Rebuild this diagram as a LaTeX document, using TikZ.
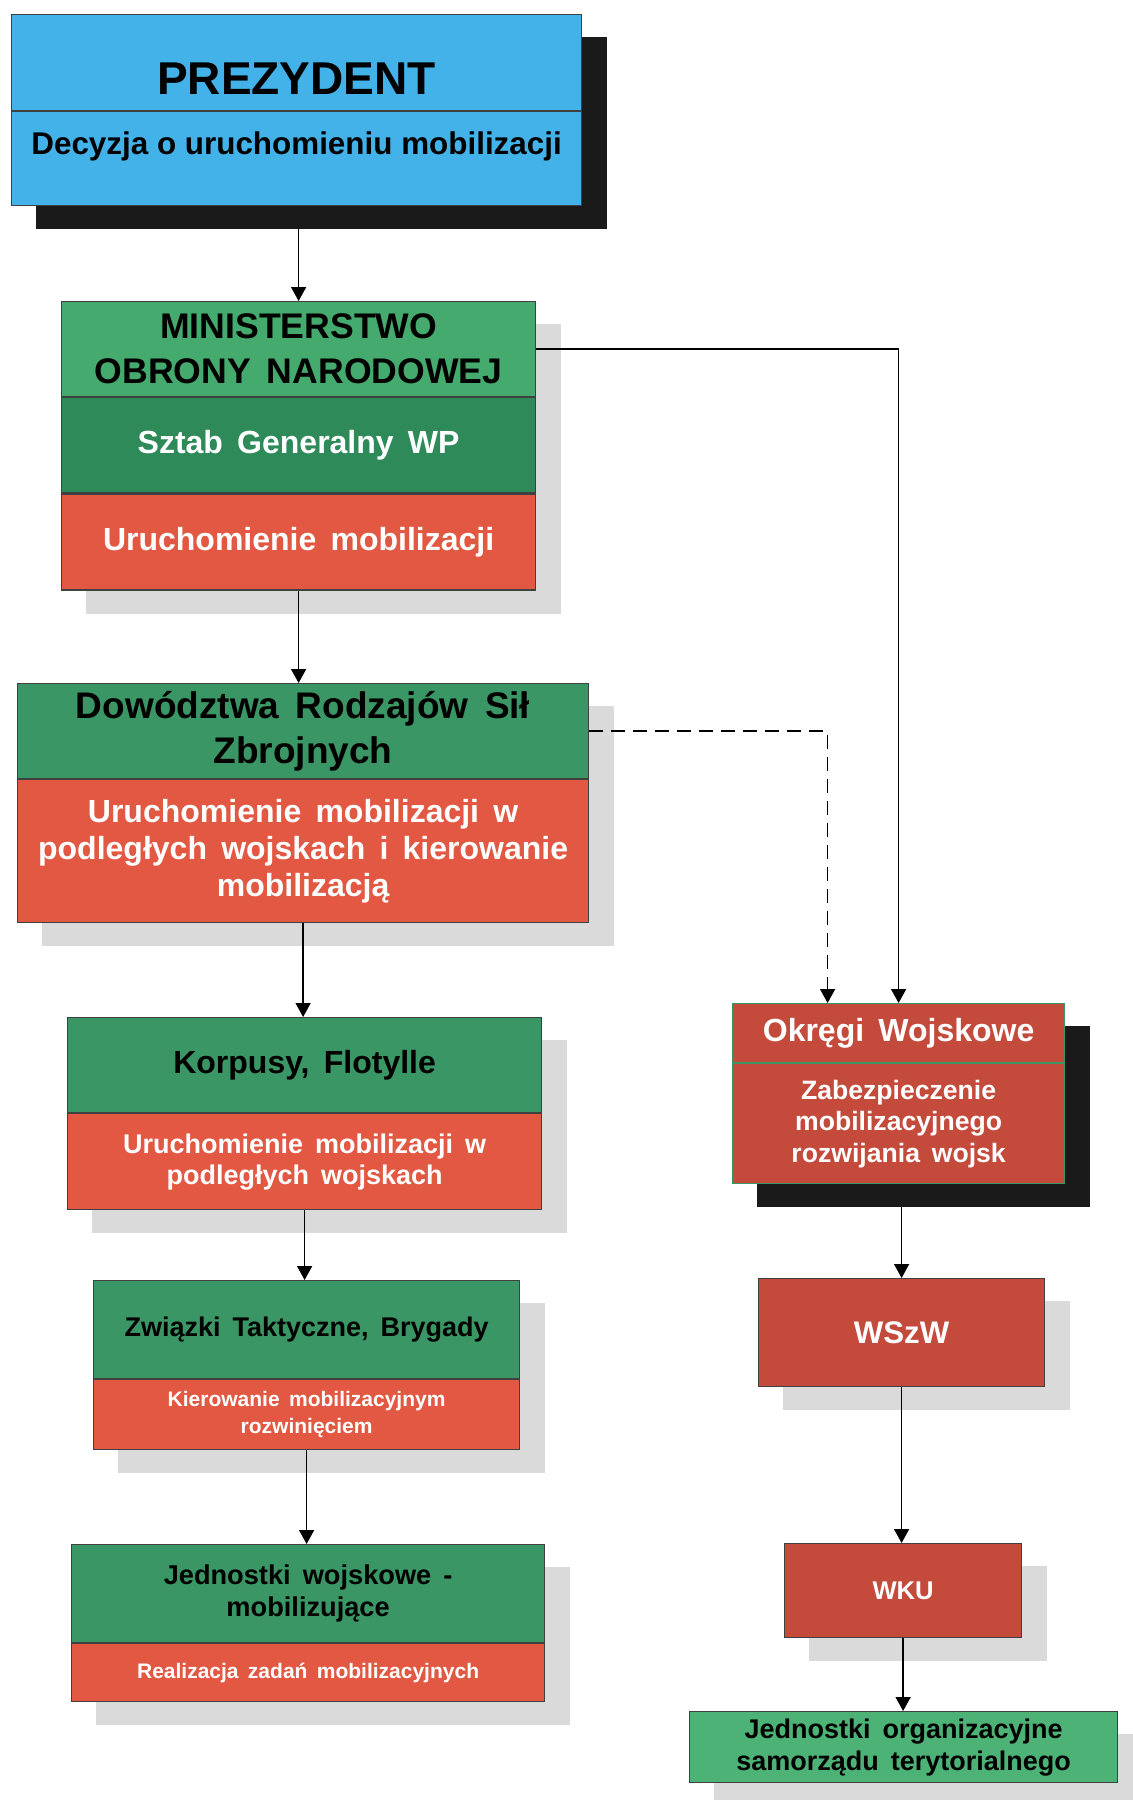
\documentclass[tikz,border=0pt]{standalone}
\usepackage{fontspec}
\setmainfont[WordSpace=1.6]{Liberation Sans}
\newfontfamily\plainsp{Liberation Sans}
\usetikzlibrary{positioning,arrows.meta,backgrounds}
\definecolor{prezblue}{RGB}{66,178,232}
\definecolor{grnlight}{RGB}{68,170,110}
\definecolor{grndark}{RGB}{46,138,88}
\definecolor{grnmid}{RGB}{58,150,100}
\definecolor{grnpale}{RGB}{76,178,118}
\definecolor{redlight}{RGB}{226,88,66}
\definecolor{reddark}{RGB}{196,74,60}
\definecolor{okrline}{RGB}{60,150,100}
\definecolor{shadegray}{RGB}{218,218,218}
\definecolor{shadeblack}{RGB}{26,26,26}
\newcommand\fz[2]{\fontsize{#1}{#2}\selectfont\bfseries}
\tikzset{
  sec/.style={draw=black!75,line width=.6pt,inner sep=0pt,align=center},
  arr/.style={line width=.75pt,-{Triangle[length=7pt,width=7.5pt]}},
}

\begin{document}
\begin{tikzpicture}[x=.5pt,y=-.5pt]
\useasboundingbox (0,0) rectangle (1132,1800);

\node[sec,fill=prezblue,minimum width=285pt,anchor=north west,text height=40pt,text depth=8pt,font=\fz{23}{27}] (prez1) at (11,14) {PREZYDENT};
\node[sec,fill=prezblue,minimum width=285pt,below=0pt of prez1,text height=21.5pt,text depth=25.5pt,font=\plainsp\fz{15.7}{19}] (prez2) {Decyzja o uruchomieniu mobilizacji};

\node[sec,fill=grnlight,minimum width=237pt,minimum height=47.5pt,anchor=north west,font=\fz{17.8}{22.5}] (mon1) at (61,301) {MINISTERSTWO\\OBRONY NARODOWEJ};
\node[sec,fill=grndark,text=white,minimum width=237pt,minimum height=47.5pt,below=0pt of mon1,font=\fz{16}{19}] (mon2) {Sztab Generalny WP};
\node[sec,fill=redlight,text=white,minimum width=237pt,minimum height=48pt,below=0pt of mon2,font=\fz{16}{19}] (mon3) {Uruchomienie mobilizacji};

\node[sec,fill=grnmid,minimum width=285.5pt,minimum height=47.5pt,anchor=north west,font=\fz{18.5}{22.5}] (dow1) at (17,683) {Dowództwa Rodzajów Sił\\Zbrojnych};
\node[sec,fill=redlight,text=white,minimum width=285.5pt,minimum height=71.5pt,below=0pt of dow1,font=\fz{16}{18.7}] (dow2) {Uruchomienie mobilizacji w\\podległych wojskach i kierowanie\\mobilizacją};

\node[sec,fill=grnmid,minimum width=237pt,minimum height=47.5pt,anchor=north west,font=\fz{16}{19}] (korp1) at (67,1017) {Korpusy, Flotylle};
\node[sec,fill=redlight,text=white,minimum width=237pt,minimum height=48pt,below=0pt of korp1,font=\fz{13.5}{15.5}] (korp2) {Uruchomienie mobilizacji w\\podległych wojskach};

\node[sec,fill=grnmid,minimum width=213pt,minimum height=49pt,anchor=north west,font=\fz{13.5}{16}] (zw1) at (93,1280) {Związki Taktyczne, Brygady};
\node[sec,fill=redlight,text=white,minimum width=213pt,minimum height=35pt,below=0pt of zw1,font=\fz{10.5}{13.5}] (zw2) {Kierowanie mobilizacyjnym\\rozwinięciem};

\node[sec,fill=grnmid,minimum width=236.5pt,minimum height=49pt,anchor=north west,font=\fz{13.6}{16}] (jw1) at (71,1544) {Jednostki wojskowe -\\mobilizujące};
\node[sec,fill=redlight,text=white,minimum width=236.5pt,minimum height=29pt,below=0pt of jw1,font=\fz{10.5}{13}] (jw2) {Realizacja zadań mobilizacyjnych};

\node[sec,draw=okrline,fill=reddark,text=white,minimum width=166pt,minimum height=29.5pt,anchor=north west,font=\fz{16}{19}] (okr1) at (732,1003) {Okręgi Wojskowe};
\node[sec,draw=okrline,fill=reddark,text=white,minimum width=166pt,minimum height=60pt,below=0pt of okr1,font=\fz{13.3}{15.75}] (okr2) {Zabezpieczenie\\mobilizacyjnego\\rozwijania wojsk};

\node[sec,fill=reddark,text=white,minimum width=143pt,minimum height=54pt,anchor=north west,font=\fz{15.6}{19}] (wszw) at (758,1278) {WSzW};
\node[sec,fill=reddark,text=white,minimum width=118.5pt,minimum height=47pt,anchor=north west,font=\fz{12.8}{15}] (wku) at (784,1543) {WKU};
\node[sec,fill=grnpale,minimum width=214pt,minimum height=35.5pt,anchor=north west,font=\fz{13.5}{16}] (jorg) at (689,1711) {Jednostki organizacyjne\\samorządu terytorialnego};

\begin{scope}[on background layer]
\foreach \top/\bot/\col in {prez1/prez2/shadeblack,mon1/mon3/shadegray,dow1/dow2/shadegray,korp1/korp2/shadegray,zw1/zw2/shadegray,jw1/jw2/shadegray,okr1/okr2/shadeblack,wszw/wszw/shadegray,wku/wku/shadegray,jorg/jorg/shadegray}
  \fill[\col] ([shift={(12.5pt,-11.5pt)}]\top.north west) rectangle ([shift={(12.5pt,-11.5pt)}]\bot.south east);
\end{scope}

\coordinate (okrin) at ([xshift=-35.5pt]okr1.north);
\draw[arr] ([yshift=-11.5pt]mon1.north |- prez2.south) -- (mon1.north);
\draw[arr] (mon3.south) -- (mon3.south |- dow1.north);
\draw[arr] (dow2.south) -- (dow2.south |- korp1.north);
\draw[arr] (korp2.south) -- (korp2.south |- zw1.north);
\draw[arr] (zw2.south) -- (zw2.south |- jw1.north);
\draw[arr] (mon1.east) -| (okr1.north);
\draw[arr,dash pattern=on 7pt off 4pt] (dow1.east) -| (okrin);
\draw[arr] ([yshift=-11.5pt]wszw.north |- okr2.south) -- (wszw.north);
\draw[arr] (wszw.south) -- (wszw.south |- wku.north);
\draw[arr] (wku.south) -- (wku.south |- jorg.north);
\end{tikzpicture}
\end{document}
